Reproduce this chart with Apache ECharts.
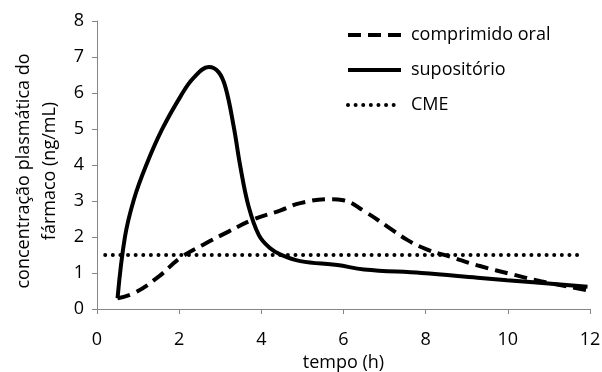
<!DOCTYPE html>
<html>
<head>
<meta charset="utf-8">
<script src="https://cdn.jsdelivr.net/npm/echarts@6/dist/echarts.min.js"></script>
<style>html,body{margin:0;padding:0;background:#fff}#c{width:602px;height:372px}</style>
</head>
<body>
<div id="c"></div>
<script>
const xTicks = [0, 2, 4, 6, 8, 10, 12];
const yTicks = [0, 1, 2, 3, 4, 5, 6, 7, 8];
const seriesNames = ['comprimido oral', 'supositório', 'CME'];
const oral = [[0.5,0.3],[0.93,0.46],[1.5,0.9],[2.03,1.42],[2.64,1.82],[3.2,2.15],[3.77,2.47],[4.47,2.74],[4.95,2.94],[5.68,3.05],[6.0,3.02],[6.5,2.72],[7.07,2.29],[7.55,1.92],[8.04,1.65],[8.6,1.45],[9.3,1.2],[10.15,0.95],[10.8,0.77],[11.94,0.52]];
const supositorio = [[0.5,0.3],[0.68,2.0],[0.9,3.05],[1.2,4.0],[1.58,4.98],[2.03,5.9],[2.35,6.42],[2.72,6.72],[2.96,6.58],[3.13,6.15],[3.33,5.05],[3.49,3.95],[3.69,2.85],[3.94,2.05],[4.2,1.7],[4.47,1.51],[4.95,1.33],[5.85,1.22],[6.5,1.1],[7.9,1.0],[9.26,0.87],[9.98,0.8],[11.94,0.62]];
const cme = [[0.2,1.5],[11.85,1.5]];

const FONT = 'Open Sans';
const chart = echarts.init(document.getElementById('c'), null, {renderer: 'canvas'});
chart.setOption({
  animation: false,
  backgroundColor: '#fff',
  textStyle: {fontFamily: FONT, color: '#000'},
  grid: {left: 97, right: 12, top: 21, bottom: 63, containLabel: false, outerBoundsMode: 'none'},
  legend: {
    orient: 'vertical', left: 341, top: 21,
    itemWidth: 53, itemHeight: 12, itemGap: 17,
    itemStyle: {opacity: 0},
    lineStyle: {width: 4},
    textStyle: {fontFamily: FONT, fontSize: 18, color: '#000', padding: [0, 0, 0, 5]},
    data: seriesNames
  },
  xAxis: {
    type: 'value', min: 0, max: 12, interval: 2,
    name: 'tempo (h)', nameLocation: 'middle', nameGap: 44,
    nameTextStyle: {fontFamily: FONT, fontSize: 18, color: '#000'},
    axisLine: {show: true, lineStyle: {color: '#868686', width: 1}},
    axisTick: {show: true, length: 5, lineStyle: {color: '#868686'}},
    axisLabel: {fontFamily: FONT, fontSize: 18, color: '#000', margin: 22,
      formatter: v => xTicks.includes(v) ? String(v) : ''},
    splitLine: {show: false}
  },
  yAxis: {
    type: 'value', min: 0, max: 8, interval: 1,
    name: 'concentração plasmática do\nfármaco (ng/mL)', nameLocation: 'middle', nameRotate: 90, nameGap: 32,
    nameTextStyle: {fontFamily: FONT, fontSize: 18, color: '#000', lineHeight: 26, padding: [0, 12, 0, 0]},
    axisLine: {show: true, lineStyle: {color: '#868686', width: 1}},
    axisTick: {show: true, length: 5, lineStyle: {color: '#868686'}},
    axisLabel: {fontFamily: FONT, fontSize: 18, color: '#000', margin: 13,
      formatter: v => yTicks.includes(v) ? String(v) : ''},
    splitLine: {show: false}
  },
  series: [
    {name: seriesNames[0], type: 'line', data: oral, smooth: 0.45, symbol: 'none',
      lineStyle: {color: '#000', width: 4, type: [13, 7]}, itemStyle: {color: '#000'}},
    {name: seriesNames[1], type: 'line', data: supositorio, smooth: 0.4, symbol: 'none',
      lineStyle: {color: '#000', width: 4, type: 'solid'}, itemStyle: {color: '#000'}},
    {name: seriesNames[2], type: 'line', data: cme, symbol: 'none',
      lineStyle: {color: '#000', width: 4, type: [0.01, 7.6], cap: 'round'}, itemStyle: {color: '#000'}}
  ]
});
</script>
</body>
</html>
